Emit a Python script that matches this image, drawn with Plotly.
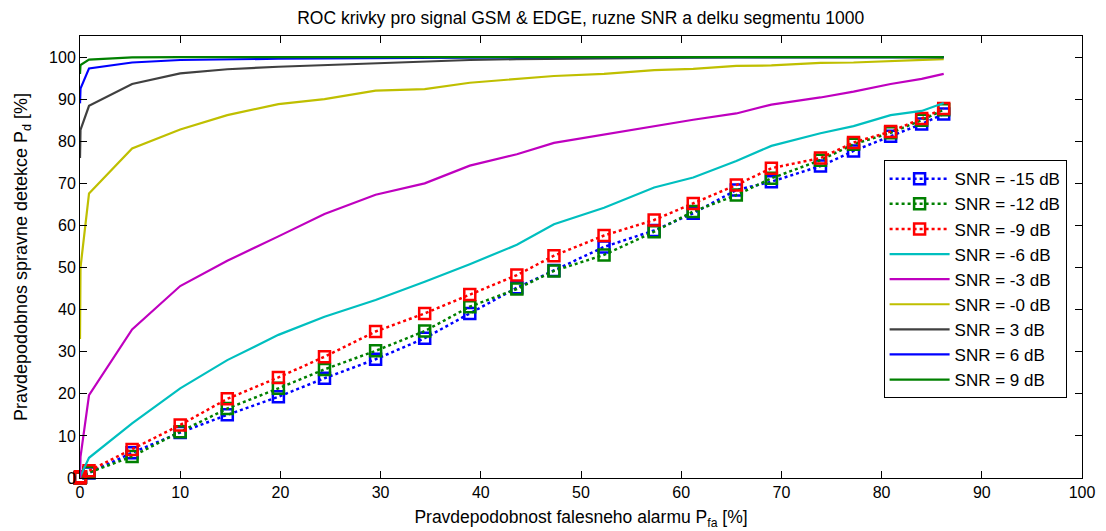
import plotly.graph_objects as go

PFA = [0, 0.05, 0.9, 5.2, 10.0, 14.7, 19.8, 24.4, 29.5, 34.4, 38.9, 43.6, 47.3,
       52.3, 57.3, 61.2, 65.5, 69.0, 73.9, 77.2, 80.9, 84.0, 86.2]

SNR_M15 = [0, 0.2, 1.2, 6.0, 10.8, 15.0, 19.3, 23.7, 28.2, 33.2, 39.1, 45.2, 49.3,
           54.9, 58.8, 62.9, 68.4, 70.4, 74.1, 77.7, 81.2, 84.1, 86.5]
SNR_M12 = [0, 0.2, 1.3, 5.1, 11.0, 16.5, 21.3, 25.8, 30.2, 34.9, 40.7, 44.9, 49.2,
           53.0, 58.5, 63.3, 67.2, 71.2, 75.5, 79.3, 82.0, 85.0, 87.5]
SNR_M9 = [0, 0.3, 1.7, 6.8, 12.6, 18.8, 23.9, 28.8, 34.8, 39.1, 43.6, 48.2, 52.8,
          57.6, 61.3, 65.2, 69.6, 73.6, 76.0, 79.7, 82.3, 85.4, 87.8]
SNR_M6 = [0, 0.5, 4.8, 13.0, 21.3, 28.0, 34.0, 38.3, 42.3, 46.6, 50.8, 55.4, 60.3,
          64.2, 69.0, 71.4, 75.3, 78.9, 81.9, 83.6, 86.2, 87.2, 89.1]
SNR_M3 = [0, 5.0, 19.7, 35.3, 45.6, 51.6, 57.4, 62.7, 67.3, 70.0, 74.2, 76.9, 79.6,
          81.6, 83.6, 85.1, 86.6, 88.7, 90.4, 91.8, 93.6, 94.8, 96.0]
SNR_0 = [33, 50, 67.6, 78.3, 82.8, 86.2, 88.8, 90.0, 92.0, 92.4, 93.9, 94.8, 95.5,
         96.0, 96.9, 97.2, 97.9, 98.0, 98.6, 98.7, 99.0, 99.3, 99.5]
SNR_3 = [76, 82.7, 88.4, 93.6, 96.1, 97.1, 97.7, 98.1, 98.6, 98.9, 99.3, 99.5, 99.6,
         99.7, 99.8, 99.85, 99.9, 99.9, 99.95, 99.95, 100, 100, 100]
SNR_6 = [89, 92.5, 97.3, 98.7, 99.3, 99.5, 99.6, 99.7, 99.8, 99.85, 99.9, 99.9, 99.95,
         99.95, 100, 100, 100, 100, 100, 100, 100, 100, 100]
SNR_9 = [96, 98.1, 99.4, 99.9, 100, 100, 100, 100, 100, 100, 100, 100, 100,
         100, 100, 100, 100, 100, 100, 100, 100, 100, 100]

LABELS = ["SNR = -15 dB", "SNR = -12 dB", "SNR = -9 dB", "SNR = -6 dB", "SNR = -3 dB",
          "SNR = -0 dB", "SNR = 3 dB", "SNR = 6 dB", "SNR = 9 dB"]
SERIES = [SNR_M15, SNR_M12, SNR_M9, SNR_M6, SNR_M3, SNR_0, SNR_3, SNR_6, SNR_9]
COLORS = ["#0000ff", "#008000", "#ff0000", "#00bfbf", "#bf00bf", "#bfbf00",
          "#404040", "#0000ff", "#008000"]

FONT = "Liberation Sans, Arial, sans-serif"

fig = go.Figure()
for i, (lab, ys, col) in enumerate(zip(LABELS, SERIES, COLORS)):
    if i < 3:
        fig.add_trace(go.Scatter(
            x=PFA, y=ys, name=lab, mode="lines+markers",
            line=dict(color=col, width=2.5, dash="dot"),
            marker=dict(symbol="square-open", size=11, color=col, line=dict(width=2.5, color=col)),
            cliponaxis=False,
        ))
    else:
        fig.add_trace(go.Scatter(
            x=PFA, y=ys, name=lab, mode="lines",
            line=dict(color=col, width=2.2),
        ))

axis_common = dict(
    showline=True, linecolor="black", linewidth=1, mirror="ticks",
    ticks="inside", ticklen=7, tickcolor="black", tickwidth=1,
    showgrid=False, zeroline=False, automargin=False,
    tickfont=dict(family=FONT, size=16, color="black"),
)

fig.update_layout(
    width=1106, height=531,
    margin=dict(l=80, r=24, t=36, b=53),
    paper_bgcolor="white", plot_bgcolor="white",
    font=dict(family=FONT, size=16, color="black"),
    title=dict(text="ROC krivky pro signal GSM & EDGE, ruzne SNR a delku segmentu 1000",
               x=0.525, xanchor="center", y=0.967, yanchor="middle",
               font=dict(family=FONT, size=17.5, color="black")),
    xaxis=dict(range=[0, 100], tickmode="array", tickvals=list(range(0, 101, 10)),
               title=dict(text="Pravdepodobnost falesneho alarmu P<sub>fa</sub> [%]",
                          font=dict(family=FONT, size=17.5), standoff=10),
               **axis_common),
    yaxis=dict(range=[0, 105], tickmode="array", tickvals=list(range(0, 101, 10)),
               title=dict(text="Pravdepodobnos spravne detekce P<sub>d</sub> [%]",
                          font=dict(family=FONT, size=18), standoff=16),
               **axis_common),
    legend=dict(x=0.802, y=0.719, xanchor="left", yanchor="top",
                bgcolor="white", bordercolor="black", borderwidth=1,
                font=dict(family=FONT, size=17, color="black"),
                itemwidth=60, tracegroupgap=0),
    showlegend=True,
)

fig.write_html("out.html")
